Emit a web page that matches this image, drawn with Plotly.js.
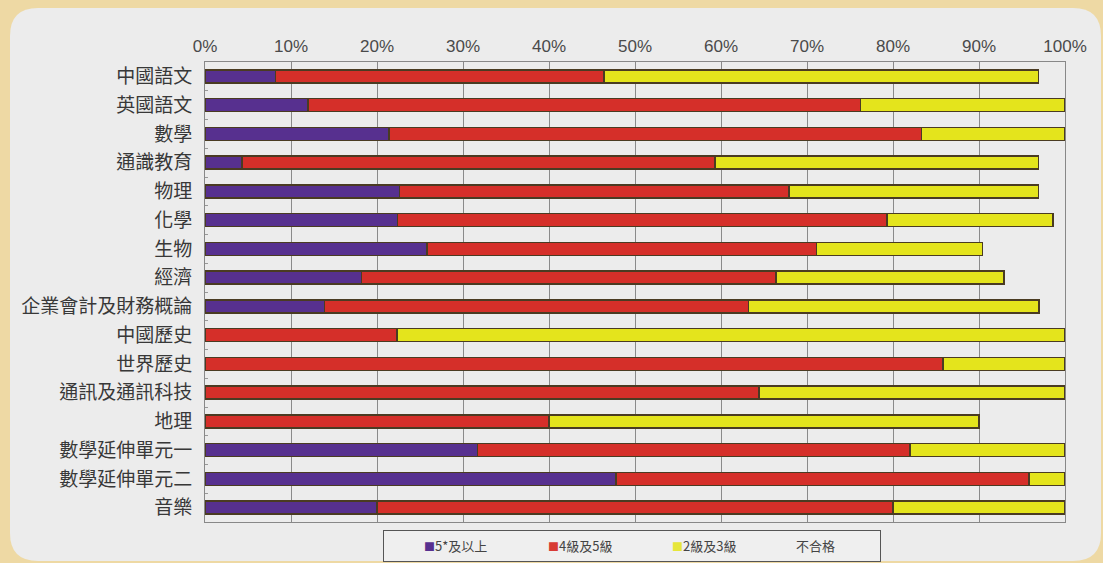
<!DOCTYPE html>
<html>
<head>
<meta charset="utf-8">
<script src="https://cdn.plot.ly/plotly-3.0.1.min.js"></script>
<style>html,body{margin:0;padding:0;background:#eed9a4;}#chart{width:1103px;height:563px;}</style>
</head>
<body>
<div id="chart"></div>
<script>
const subjects = ["中國語文","英國語文","數學","通識教育","物理","化學","生物","經濟","企業會計及財務概論","中國歷史","世界歷史","通訊及通訊科技","地理","數學延伸單元一","數學延伸單元二","音樂"];
const grade5star = [8.2,12.0,21.4,4.3,22.6,22.4,25.8,18.2,13.9,0,0,0,0,31.7,47.8,20.0];
const grade45 = [38.2,64.2,61.9,55.0,45.3,56.9,45.3,48.2,49.3,22.3,85.8,64.4,40.0,50.3,48.0,60.0];
const grade23 = [50.5,23.8,16.7,37.6,29.0,19.3,19.3,26.5,33.8,77.7,14.2,35.6,50.0,18.0,4.2,20.0];
const gradeFail = [3.1,0,0,3.1,3.1,1.4,9.6,7.1,3.0,0,0,0,10.0,0,0,0];
const seriesNames = ["5*及以上","4級及5級","2級及3級","不合格"];
const xTickVals = [0,10,20,30,40,50,60,70,80,90,100];

const colors = ["#57308f","#d52f29","#e4e41c","rgba(0,0,0,0)"];
const legendSwatch = ["#57308f","#d83a34","#e6e63a",null];
const outline = "#4a3b22";
const allSeries = [grade5star, grade45, grade23, gradeFail];

const traces = allSeries.map((vals, i) => ({
  type: "bar",
  orientation: "h",
  name: seriesNames[i],
  y: subjects,
  x: vals,
  showlegend: false,
  marker: {color: colors[i], line: {color: i < 3 ? outline : "rgba(0,0,0,0)", width: i < 3 ? 1.5 : 0}},
  hoverinfo: "x+y+name"
}));

// legend entries: small coloured square as text directly before the name
seriesNames.forEach((n, i) => {
  traces.push({
    type: "scatter", mode: "markers", x: [null], y: [null],
    name: (legendSwatch[i] ? `<span style="color:${legendSwatch[i]};font-size:11px">■</span>` : "") + n,
    marker: {opacity: 0, size: 1, color: "rgba(0,0,0,0)", line: {width: 0}},
    hoverinfo: "skip", showlegend: true
  });
});

// page panel (rounded light panel over cream background)
const W = 1103, H = 563, ml = 205, mr = 38, mt = 62, mb = 41;
const pw = W - ml - mr, ph = H - mt - mb;
const fx = p => (p - ml) / pw;
const fy = p => (H - mb - p) / ph;
const L = 10, T = 8, R = 1101, B = 561, r = 28;
const panelPath = `M ${fx(L+r)},${fy(T)} L ${fx(R-r)},${fy(T)} Q ${fx(R)},${fy(T)} ${fx(R)},${fy(T+r)} L ${fx(R)},${fy(B-r)} Q ${fx(R)},${fy(B)} ${fx(R-r)},${fy(B)} L ${fx(L+r)},${fy(B)} Q ${fx(L)},${fy(B)} ${fx(L)},${fy(B-r)} L ${fx(L)},${fy(T+r)} Q ${fx(L)},${fy(T)} ${fx(L+r)},${fy(T)} Z`;

const layout = {
  width: W, height: H,
  margin: {l: ml, r: mr, t: mt, b: mb, pad: 0, autoexpand: false},
  paper_bgcolor: "#eed9a4",
  plot_bgcolor: "#eeeeee",
  barmode: "stack",
  bargap: 0.55,
  showlegend: true,
  font: {family: "Liberation Sans, Noto Sans CJK TC, sans-serif", color: "#333"},
  xaxis: {
    side: "top",
    range: [0, 100],
    tickvals: xTickVals,
    ticktext: xTickVals.map(v => v + "%"),
    showgrid: true, gridcolor: "#8a8a8a", gridwidth: 1,
    showline: true, linecolor: "#888", linewidth: 1, mirror: true,
    ticks: "", ticklabelstandoff: 2,
    tickfont: {size: 17, color: "#4a4a4a", family: "Liberation Sans, sans-serif"},
    zeroline: false, fixedrange: true
  },
  yaxis: {
    autorange: "reversed",
    type: "category",
    showline: true, linecolor: "#888", linewidth: 1, mirror: true,
    ticks: "inside", tickson: "boundaries", ticklen: 3, tickcolor: "#999",
    showgrid: false,
    ticklabelstandoff: 8,
    tickfont: {size: 19, color: "#383838", family: "Noto Sans CJK TC, sans-serif"},
    fixedrange: true
  },
  legend: {
    orientation: "h",
    x: 0.4965, xanchor: "center",
    y: -0.017, yanchor: "top",
    bgcolor: "#efefef",
    bordercolor: "#555", borderwidth: 1,
    font: {size: 13, color: "#444", family: "Noto Sans CJK TC, sans-serif"},
    itemwidth: 30,
    entrywidth: 79,
    traceorder: "normal",
    itemclick: false, itemdoubleclick: false
  },
  shapes: [{
    type: "path", xref: "paper", yref: "paper", layer: "below",
    path: panelPath, fillcolor: "#ececec", line: {width: 0}
  }]
};

Plotly.newPlot("chart", traces, layout, {displayModeBar: false, staticPlot: true});
</script>
</body>
</html>
